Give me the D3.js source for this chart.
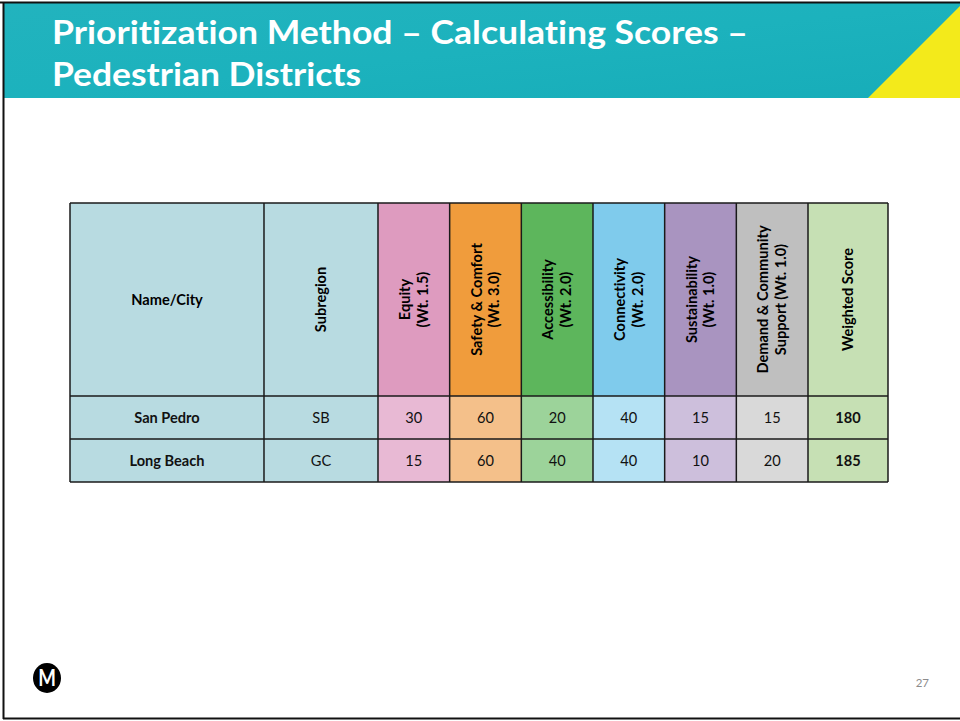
<!DOCTYPE html>
<html>
<head>
<meta charset="utf-8">
<script src="https://cdn.jsdelivr.net/npm/d3@7"></script>
<style>
  html, body { margin: 0; padding: 0; background: #fff; }
  svg { display: block; }
  text { font-family: Lato, "Open Sans", sans-serif; font-variant-ligatures: none; }
</style>
</head>
<body>
<script>
// ---------- data ----------
const headers = [
  ["Name/City"],
  ["Subregion"],
  ["Equity", "(Wt. 1.5)"],
  ["Safety & Comfort", "(Wt. 3.0)"],
  ["Accessibility", "(Wt. 2.0)"],
  ["Connectivity", "(Wt. 2.0)"],
  ["Sustainability", "(Wt. 1.0)"],
  ["Demand & Community", "Support (Wt. 1.0)"],
  ["Weighted Score"]
];
const names = ["San Pedro", "Long Beach"];
const subregions = ["SB", "GC"];
const equity = [30, 15];
const safety = [60, 60];
const accessibility = [20, 40];
const connectivity = [40, 40];
const sustainability = [15, 10];
const demand = [15, 20];
const weighted = [180, 185];

const title = ["Prioritization Method \u2013 Calculating Scores \u2013", "Pedestrian Districts"];
const pageNumber = "27";

// ---------- styles / layout ----------
const W = 960, H = 721;
const headFill = ["#b8dbe1", "#b8dbe1", "#de9bbf", "#f09c3c", "#5db65c", "#7fcbec", "#a994c0", "#bfbfbf", "#c6e0b4"];
const bodyFill = ["#b8dbe1", "#b8dbe1", "#e8b9d4", "#f4c08a", "#9cd39a", "#b5e2f4", "#cdbfdc", "#d9d9d9", "#c6e0b4"];
const colWeights = [194, 114, 71.67, 71.67, 71.67, 71.67, 71.67, 71.67, 80];
const rotated = [false, true, true, true, true, true, true, true, true];
const boldBody = [true, false, false, false, false, false, false, false, true];
const titleWidths = [696, 309];

const rows = names.map((n, i) => [n, subregions[i], equity[i], safety[i], accessibility[i],
  connectivity[i], sustainability[i], demand[i], weighted[i]]);

const svg = d3.select("body").append("svg").attr("width", W).attr("height", H);

svg.append("rect").attr("x", 0).attr("y", 0).attr("width", W).attr("height", H).attr("fill", "#fff");

// banner
const grad = svg.append("defs").append("linearGradient").attr("id", "bn")
  .attr("x1", "0").attr("y1", "0").attr("x2", "1").attr("y2", "1");
grad.append("stop").attr("offset", "0").attr("stop-color", "#22b3be");
grad.append("stop").attr("offset", "0.5").attr("stop-color", "#1cb2bd");
grad.append("stop").attr("offset", "1").attr("stop-color", "#17adb9");
svg.append("rect").attr("x", 4).attr("y", 3).attr("width", W - 4).attr("height", 95).attr("fill", "url(#bn)");
svg.append("polygon").attr("points", "868,98 961,98 961,5").attr("fill", "#f3ea1b");

svg.selectAll("text.title").data(title).join("text")
  .attr("class", "title")
  .attr("x", 52).attr("y", (d, i) => 44 + i * 42)
  .attr("fill", "#fff").attr("font-weight", 700).attr("font-size", 32)
  .attr("textLength", (d, i) => titleWidths[i]).attr("lengthAdjust", "spacingAndGlyphs")
  .text(d => d);

// frame lines
svg.append("line").attr("x1", 0).attr("x2", W).attr("y1", 2.5).attr("y2", 2.5).attr("stroke", "#111").attr("stroke-width", 2);
svg.append("line").attr("x1", 3.5).attr("x2", 3.5).attr("y1", 2).attr("y2", 719).attr("stroke", "#111").attr("stroke-width", 2);
svg.append("line").attr("x1", 3).attr("x2", W).attr("y1", 718.5).attr("y2", 718.5).attr("stroke", "#111").attr("stroke-width", 2);

// ---------- table ----------
const tableLeft = 70, tableRight = 888;
const totalW = d3.sum(colWeights);
const x = d3.scaleLinear().domain([0, totalW]).range([tableLeft, tableRight]);
const cum = [0];
colWeights.forEach((w, i) => cum.push(cum[i] + w));
const colX = i => x(cum[i]);
const colW = i => x(cum[i + 1]) - x(cum[i]);

const headTop = 203, headBottom = 396;
const y = d3.scaleBand().domain(d3.range(rows.length)).range([headBottom, headBottom + 43 * rows.length]).padding(0);

const table = svg.append("g");

const hcells = table.selectAll("g.h").data(headers).join("g").attr("class", "h");
hcells.append("rect")
  .attr("x", (d, i) => colX(i)).attr("y", headTop)
  .attr("width", (d, i) => colW(i)).attr("height", headBottom - headTop)
  .attr("fill", (d, i) => headFill[i]);

hcells.each(function(lines, i) {
  const g = d3.select(this);
  const cx = colX(i) + colW(i) / 2;
  const cy = (headTop + headBottom) / 2;
  const lh = 17.5;
  const t = g.append("text")
    .attr("font-weight", 700).attr("font-size", 14.6).attr("fill", "#000")
    .attr("text-anchor", "middle")
    .attr("transform", rotated[i] ? `translate(${cx},${cy}) rotate(-90)` : `translate(${cx},${cy})`);
  lines.forEach((ln, k) => {
    t.append("tspan").attr("x", 0)
      .attr("y", (k - (lines.length - 1) / 2) * lh + 5)
      .text(ln);
  });
});

rows.forEach((r, ri) => {
  const rg = table.append("g");
  rg.selectAll("rect").data(r).join("rect")
    .attr("x", (d, i) => colX(i)).attr("y", y(ri))
    .attr("width", (d, i) => colW(i)).attr("height", y.bandwidth())
    .attr("fill", (d, i) => bodyFill[i]);
  rg.selectAll("text").data(r).join("text")
    .attr("x", (d, i) => colX(i) + colW(i) / 2)
    .attr("y", y(ri) + y.bandwidth() / 2 + 5.5)
    .attr("text-anchor", "middle")
    .attr("font-size", 14.6)
    .attr("font-weight", (d, i) => boldBody[i] ? 700 : 400)
    .attr("fill", "#111")
    .text(d => d);
});

const gridColor = "#1a1a1a";
const bottom = y(rows.length - 1) + y.bandwidth();
const vx = d3.range(headers.length + 1).map(i => x(cum[i]));
table.selectAll("line.v").data(vx).join("line").attr("class", "v")
  .attr("x1", d => d).attr("x2", d => d).attr("y1", headTop).attr("y2", bottom)
  .attr("stroke", gridColor).attr("stroke-width", 1.5);
const hy = [headTop, ...d3.range(rows.length).map(i => y(i)), bottom];
table.selectAll("line.hz").data(hy).join("line").attr("class", "hz")
  .attr("x1", tableLeft).attr("x2", tableRight).attr("y1", d => d).attr("y2", d => d)
  .attr("stroke", gridColor).attr("stroke-width", 1.5);

// ---------- footer ----------
svg.append("ellipse").attr("cx", 47).attr("cy", 678).attr("rx", 14).attr("ry", 15).attr("fill", "#000");
svg.append("text").attr("x", 47).attr("y", 686).attr("text-anchor", "middle")
  .attr("font-family", "'DejaVu Sans Condensed', 'Liberation Sans Narrow', sans-serif")
  .attr("font-weight", 700).attr("font-size", 22).attr("fill", "#fff")
  .attr("transform", "translate(47,686) scale(0.85,1) translate(-47,-686)")
  .text("M");
svg.append("text").attr("x", 929).attr("y", 687).attr("text-anchor", "end")
  .attr("font-size", 11.5).attr("fill", "#8c8c8c").text(pageNumber);
</script>
</body>
</html>
